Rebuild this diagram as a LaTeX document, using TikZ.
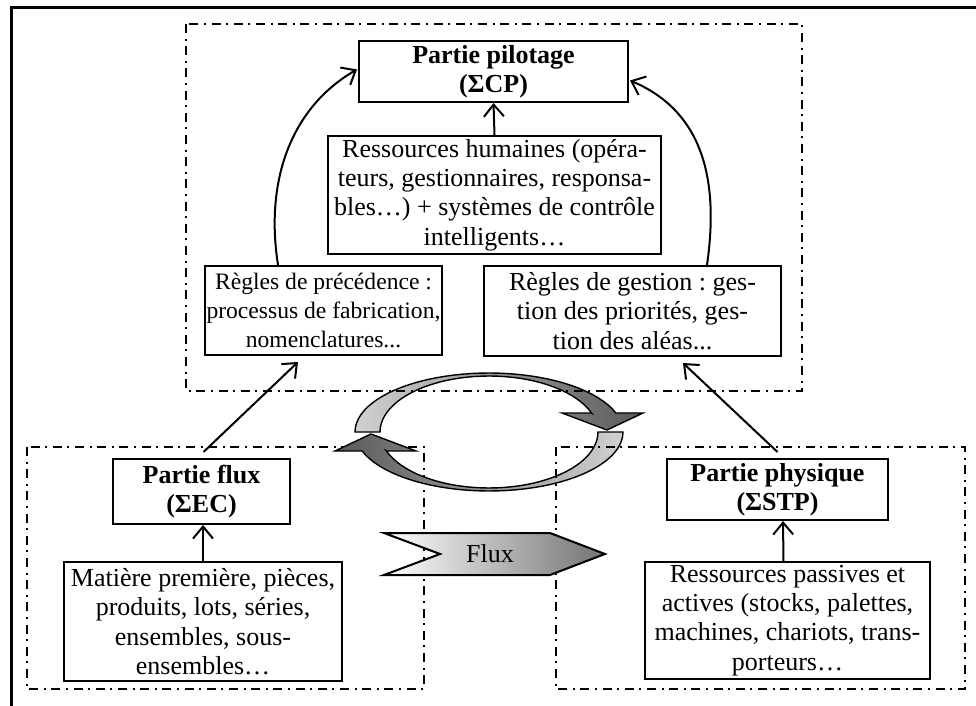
\documentclass[tikz,border=0pt]{standalone}
\usepackage{fontspec}
\setmainfont{Liberation Serif}
\usetikzlibrary{calc,arrows.meta}
\frenchspacing

\begin{document}
\begin{tikzpicture}[x=0.5pt, y=-0.5pt,
  font=\fontsize{13}{14.65}\selectfont,
  box/.style={draw, line width=1pt, align=center, inner sep=0pt},
  title/.style={box, font=\fontsize{13}{14.65}\selectfont\bfseries},
  frame/.style={line width=1pt, dash pattern=on 4.5pt off 2.8pt on 1pt off 2.8pt},
  ring/.style={draw, line width=0.7pt},
  arr/.style={line width=1pt, -{Straight Barb[length=6pt,width=10pt]}}]

  \useasboundingbox (0,0) rectangle (976,706);

  % Outer frame
  \draw[line width=1.5pt] (11,706) -- (11,8) -- (976,8);

  % Lower left frame
  \draw[frame] (27,447) rectangle (424,689);

  % Circular arrows
  \path[ring, left color=black!18, right color=black!65]
    plot[domain=180:18.8, samples=40] ({489+134*cos(\x)},{432-59*sin(\x)})
    -- (643,413) -- (607,430) -- (562,413) -- (591.5,413)
    -- plot[domain=19.8:180, samples=40] ({489+109*cos(\x)},{432-56*sin(\x)}) -- cycle;
  \path[ring, left color=black!65, right color=black!18]
    plot[domain=180:18.8, samples=40] ({489-134*cos(\x)},{432+59*sin(\x)})
    -- (335,451) -- (371,434) -- (416,451) -- (386.5,451)
    -- plot[domain=19.8:180, samples=40] ({489-109*cos(\x)},{432+56*sin(\x)}) -- cycle;

  % Upper and lower right frames
  \draw[frame] (186,24) rectangle (802,391);
  \draw[frame] (556,447) rectangle (965,689);

  % Flux arrow
  \path[draw, line width=1pt, left color=white, right color=black!55]
    (384,533) -- (550,533) -- (605,554) -- (550,575) -- (384,575) -- (440,554) -- cycle;
  \node (fluxlbl) at (490,554) {Flux};

  % Boxes
  \node[title, minimum width=134.5pt, minimum height=30.5pt] (pilot) at (493.5,71.5) {Partie pilotage\\(ΣCP)};
  \node[box, minimum width=166.5pt, minimum height=59pt] (hum) at (494.5,195) {Ressources humaines (opéra-\\teurs, gestionnaires, responsa-\\bles…) + systèmes de contrôle\\intelligents…};
  \node[box, minimum width=118.5pt, minimum height=44.5pt, font=\fontsize{11.8}{14.65}\selectfont] (prec) at (323.5,310.5) {Règles de précédence :\\processus de fabrication,\\nomenclatures...};
  \node[box, minimum width=148.5pt, minimum height=45pt] (gest) at (632.5,311) {Règles de gestion : ges-\\tion des priorités, ges-\\tion des aléas...};
  \node[title, minimum width=88.5pt, minimum height=32.5pt] (eflux) at (201.5,491.5) {Partie flux\\(ΣEC)};
  \node[box, minimum width=139pt, minimum height=59.5pt] (mat) at (203,621.5) {Matière première, pièces,\\produits, lots, séries,\\ensembles, sous-\\ensembles…};
  \node[title, minimum width=110.5pt, minimum height=30.5pt] (phys) at (777.5,489.5) {Partie physique\\(ΣSTP)};
  \node[box, minimum width=142.5pt, minimum height=58.5pt] (pass) at (787.5,620.5) {Ressources passives et\\actives (stocks, palettes,\\machines, chariots, trans-\\porteurs…};

  % Connectors
  \draw[arr] (hum.north) -- (pilot.south);
  \draw[arr] ($(prec.north)+(-45.5,0)$) .. controls (264,175) and (295,105) .. ($(pilot.west)+(-1,-2)$);
  \draw[arr] ($(gest.north)+(74.5,0)$) .. controls (720,175) and (700,110) .. ($(pilot.east)+(1,9)$);
  \draw[arr] ($(eflux.north)+(2,-6)$) -- ($(prec.south)+(-25.5,6)$);
  \draw[arr] ($(phys.north)+(0,-6)$) -- ($(gest.south)+(50.5,6)$);
  \draw[arr] (mat.north) -- (mat.north |- eflux.south);
  \draw[arr] ($(pass.north)+(-4,0)$) -- ($(phys.south)+(5.5,0)$);

\end{tikzpicture}
\end{document}
